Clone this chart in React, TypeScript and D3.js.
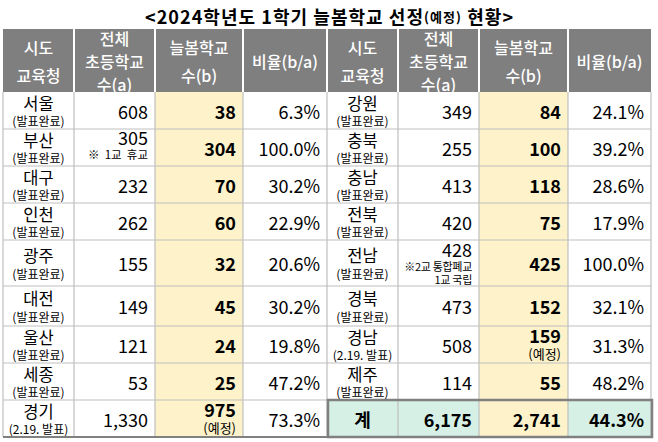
import React from 'react';
import * as d3 from 'd3';

// 시도 교육청 (left table 9, right table 8)
const regions = ['서울', '부산', '대구', '인천', '광주', '대전', '울산', '세종', '경기',
  '강원', '충북', '충남', '전북', '전남', '경북', '경남', '제주'];
const announced = ['발표완료', '발표완료', '발표완료', '발표완료', '발표완료', '발표완료', '발표완료', '발표완료', '2.19. 발표',
  '발표완료', '발표완료', '발표완료', '발표완료', '발표완료', '발표완료', '2.19. 발표', '발표완료'];
// 전체 초등학교 수(a)
const schools = [608, 305, 232, 262, 155, 149, 121, 53, 1330, 349, 255, 413, 420, 428, 473, 508, 114];
// 늘봄학교 수(b)
const neulbom = [38, 304, 70, 60, 32, 45, 24, 25, 975, 84, 100, 118, 75, 425, 152, 159, 55];
// 비율(b/a)
const ratios = [6.3, 100.0, 30.2, 22.9, 20.6, 30.2, 19.8, 47.2, 73.3, 24.1, 39.2, 28.6, 17.9, 100.0, 32.1, 31.3, 48.2];
const notes: Record<string, string[]> = { '부산': ['※  1교  휴교'], '전남': ['※2교 통합폐교', '1교 국립'] };
const tentative = ['경기', '경남'];
const totalLabel = '계';
const totalSchools = 6175;
const totalNeulbom = 2741;
const totalRatio = 44.3;
const headers = [['시도', '교육청'], ['전체', '초등학교', '수(a)'], ['늘봄학교', '수(b)'], ['비율(b/a)']];

const W = 658, H = 442;
const FONT = '"Noto Sans CJK KR", "Malgun Gothic", sans-serif';
const HEAD_TOP = 29, BODY_TOP = 92;
const rowHeights = [37, 37, 37, 37, 46, 40, 37, 37, 37];
const rowEdges = [BODY_TOP, ...Array.from(d3.cumsum(rowHeights), d => BODY_TOP + d)];
const sides = [[3, 74, 155, 243, 327], [327, 398, 479, 568, 651]];
const GRID = '#bfbfbf', HEAD = '#7f7f7f', YELLOW = '#fdf2c9', GREEN = '#d6f0e6', DARK = '#808080';

const fmtInt = d3.format(',');
const fmtPct = (v: number) => d3.format('.1f')(v) + '%';

function Cell({ i, edges, top, bottom }: { i: number; edges: number[]; top: number; bottom: number }) {
  const cy = (top + bottom) / 2;
  const name = regions[i];
  const nx = (edges[0] + edges[1]) / 2;
  const note = notes[name];
  const tent = tentative.includes(name);
  const r1 = edges[2] - 7, r2 = edges[3] - 7, r3 = edges[4] - 7;
  return (
    <g>
      <text x={nx} y={cy - 8} fontSize={16.5} textAnchor="middle" dominantBaseline="central">{name}</text>
      <text x={nx} y={cy + 10} fontSize={12} textAnchor="middle" dominantBaseline="central">({announced[i]})</text>
      {note ? (
        note.length === 1 ? (
          <>
            <text x={r1} y={cy - 11} fontSize={18} textAnchor="end" dominantBaseline="central">{fmtInt(schools[i])}</text>
            <text x={r1} y={cy + 6} fontSize={11.5} textAnchor="end" dominantBaseline="central" style={{ whiteSpace: 'pre' }}>{note[0]}</text>
          </>
        ) : (
          <>
            <text x={r1} y={cy - 14} fontSize={18} textAnchor="end" dominantBaseline="central">{fmtInt(schools[i])}</text>
            {note.map((n, k) => (
              <text key={k} x={r1} y={cy + 3 + k * 13} fontSize={11} letterSpacing={-0.3} textAnchor="end" dominantBaseline="central">{n}</text>
            ))}
          </>
        )
      ) : (
        <text x={r1} y={cy} fontSize={18} textAnchor="end" dominantBaseline="central">{fmtInt(schools[i])}</text>
      )}
      {tent ? (
        <>
          <text x={r2} y={cy - 10} fontSize={18} fontWeight="bold" textAnchor="end" dominantBaseline="central">{fmtInt(neulbom[i])}</text>
          <text x={r2} y={cy + 9} fontSize={13} textAnchor="end" dominantBaseline="central">(예정)</text>
        </>
      ) : (
        <text x={r2} y={cy} fontSize={18} fontWeight="bold" textAnchor="end" dominantBaseline="central">{fmtInt(neulbom[i])}</text>
      )}
      <text x={r3} y={cy} fontSize={18} textAnchor="end" dominantBaseline="central">{fmtPct(ratios[i])}</text>
    </g>
  );
}

export default function App() {
  const last = rowEdges.length - 1;
  const bodyBottom = rowEdges[last];
  const [L, R] = sides;
  const totTop = rowEdges[last - 1];
  const totCy = (totTop + bodyBottom) / 2;

  return (
    <div style={{ position: 'fixed', left: 0, top: 0, width: W, height: H, background: '#fff' }}>
      <svg width={W} height={H} fontFamily={FONT} style={{ display: 'block' }}>
        <rect width={W} height={H} fill="#fff" />
        {/* title */}
        <text x={W / 2} y={16} fontSize={18} fontWeight="bold" textAnchor="middle" dominantBaseline="central"
          textLength={368} lengthAdjust="spacing">
          {'<2024학년도  1학기  늘봄학교  선정'}<tspan fontSize={13}>(예정)</tspan>{'  현황>'}
        </text>

        {/* header */}
        <rect x={L[0]} y={HEAD_TOP} width={R[4] - L[0]} height={BODY_TOP - HEAD_TOP} fill={HEAD} />
        {sides.map((edges, s) => (
          <g key={s}>
            {headers.map((lines, c) => {
              const cx = (edges[c] + edges[c + 1]) / 2;
              const mid = (HEAD_TOP + BODY_TOP) / 2;
              const gap = lines.length === 3 ? 23 : 28;
              return lines.map((t, k) => (
                <text key={`${c}-${k}`} x={cx} y={mid + (k - (lines.length - 1) / 2) * gap} fill="#fff" fontSize={16}
                  fontWeight={500} textAnchor="middle" dominantBaseline="central">{t}</text>
              ));
            })}
          </g>
        ))}
        {[...L.slice(1), ...R.slice(1, 4)].map((x, k) => (
          <line key={k} x1={x} x2={x} y1={HEAD_TOP} y2={BODY_TOP} stroke="#fff" strokeWidth={2} />
        ))}

        {/* body fills */}
        {sides.map((edges, s) => (
          <rect key={s} x={edges[2]} y={BODY_TOP} width={edges[3] - edges[2]} height={bodyBottom - BODY_TOP} fill={YELLOW} />
        ))}
        {[0, 1, 3].map(c => (
          <rect key={c} x={R[c]} y={totTop} width={R[c + 1] - R[c]} height={bodyBottom - totTop} fill={GREEN} />
        ))}

        {/* grid */}
        {rowEdges.slice(1, last).map((y, k) => (
          <line key={`h${k}`} x1={L[0]} x2={R[4]} y1={y} y2={y} stroke={GRID} strokeWidth={1.2} />
        ))}
        {[...L, ...R.slice(1)].map((x, k) => (
          <line key={`v${k}`} x1={x} x2={x} y1={BODY_TOP} y2={bodyBottom} stroke={GRID} strokeWidth={1.2} />
        ))}
        <line x1={L[0]} x2={L[4]} y1={bodyBottom} y2={bodyBottom} stroke={DARK} strokeWidth={2} />
        <rect x={R[0] + 1} y={totTop} width={R[4] - R[0]} height={bodyBottom - totTop} fill="none" stroke={DARK} strokeWidth={2.5} />

        {/* rows */}
        {rowHeights.map((_, r) => (
          <Cell key={`l${r}`} i={r} edges={L} top={rowEdges[r]} bottom={rowEdges[r + 1]} />
        ))}
        {rowHeights.slice(0, last - 1).map((_, r) => (
          <Cell key={`r${r}`} i={rowHeights.length + r} edges={R} top={rowEdges[r]} bottom={rowEdges[r + 1]} />
        ))}

        {/* total */}
        <text x={(R[0] + R[1]) / 2} y={totCy} fontSize={18} fontWeight="bold" textAnchor="middle" dominantBaseline="central">{totalLabel}</text>
        <text x={R[2] - 7} y={totCy} fontSize={18} fontWeight="bold" textAnchor="end" dominantBaseline="central">{fmtInt(totalSchools)}</text>
        <text x={R[3] - 7} y={totCy} fontSize={18} fontWeight="bold" textAnchor="end" dominantBaseline="central">{fmtInt(totalNeulbom)}</text>
        <text x={R[4] - 7} y={totCy} fontSize={18} fontWeight="bold" textAnchor="end" dominantBaseline="central">{fmtPct(totalRatio)}</text>
      </svg>
    </div>
  );
}
